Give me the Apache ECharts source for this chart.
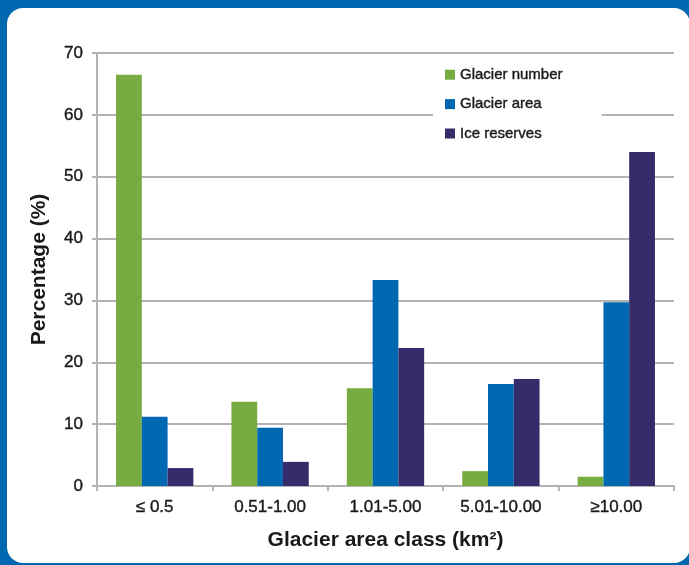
<!DOCTYPE html>
<html>
<head>
<meta charset="utf-8">
<script src="https://cdn.jsdelivr.net/npm/echarts@6/dist/echarts.min.js"></script>
<style>
html,body{margin:0;padding:0;background:#0067b1;}
#c{width:689px;height:565px;}
</style>
</head>
<body>
<div id="c"></div>
<script>
const categories = ['≤ 0.5', '0.51-1.00', '1.01-5.00', '5.01-10.00', '≥10.00'];
const glacierNumber = [66.5, 13.6, 15.8, 2.4, 1.5];
const glacierArea = [11.2, 9.4, 33.3, 16.5, 29.7];
const iceReserves = [2.9, 3.9, 22.3, 17.3, 54.0];
const yTicks = [0, 10, 20, 30, 40, 50, 60, 70];

const chart = echarts.init(document.getElementById('c'), null, {renderer: 'canvas'});
const font = 'Arial, "Liberation Sans", Helvetica, sans-serif';
const gridColor = '#b3b3b3';
const txt = '#1a1a1a';
const semi = {textBorderColor: txt, textBorderWidth: 0.4};
chart.setOption({
  backgroundColor: '#0067b1',
  animation: false,
  textStyle: {fontFamily: font},
  graphic: [{
    type: 'rect', z: -10, silent: true,
    shape: {x: 7, y: 8, width: 683, height: 555, r: 16},
    style: {fill: '#ffffff'}
  }],
  grid: {left: 97, right: 15, top: 53, bottom: 79, containLabel: false},
  legend: {
    orient: 'vertical', left: 433, top: 58,
    padding: [9, 39, 10, 12],
    backgroundColor: '#ffffff',
    itemWidth: 10, itemHeight: 10, itemGap: 14,
    icon: 'rect',
    textStyle: Object.assign({fontSize: 15, color: txt, fontFamily: font}, semi),
    data: ['Glacier number', 'Glacier area', 'Ice reserves']
  },
  xAxis: {
    type: 'category', data: categories,
    name: 'Glacier area class (km²)', nameLocation: 'middle', nameGap: 44,
    nameTextStyle: {fontSize: 21, fontWeight: 'bold', color: txt, fontFamily: font},
    axisLine: {lineStyle: {color: gridColor, width: 2}},
    axisTick: {show: true, length: 5, lineStyle: {color: gridColor, width: 2}},
    axisLabel: Object.assign({fontSize: 17, color: txt, margin: 13, interval: 0, fontFamily: font}, semi)
  },
  yAxis: {
    type: 'value', min: 0, max: 70, interval: 10,
    name: 'Percentage (%)', nameLocation: 'middle', nameGap: 47, nameRotate: 90,
    nameTextStyle: {fontSize: 21, fontWeight: 'bold', color: txt, fontFamily: font},
    axisLine: {show: true, lineStyle: {color: gridColor, width: 2}},
    axisTick: {show: true, length: 5, lineStyle: {color: gridColor, width: 2}},
    axisLabel: Object.assign({fontSize: 17, color: txt, margin: 14, fontFamily: font,
      formatter: v => yTicks.includes(v) ? String(v) : ''}, semi),
    splitLine: {show: true, lineStyle: {color: gridColor, width: 2}}
  },
  series: [
    {name: 'Glacier number', type: 'bar', data: glacierNumber, itemStyle: {color: '#77ac41'}, barGap: '0%', barCategoryGap: '33%'},
    {name: 'Glacier area', type: 'bar', data: glacierArea, itemStyle: {color: '#0068b0'}, barGap: '0%', barCategoryGap: '33%'},
    {name: 'Ice reserves', type: 'bar', data: iceReserves, itemStyle: {color: '#352c6c'}, barGap: '0%', barCategoryGap: '33%'}
  ]
});
</script>
</body>
</html>
